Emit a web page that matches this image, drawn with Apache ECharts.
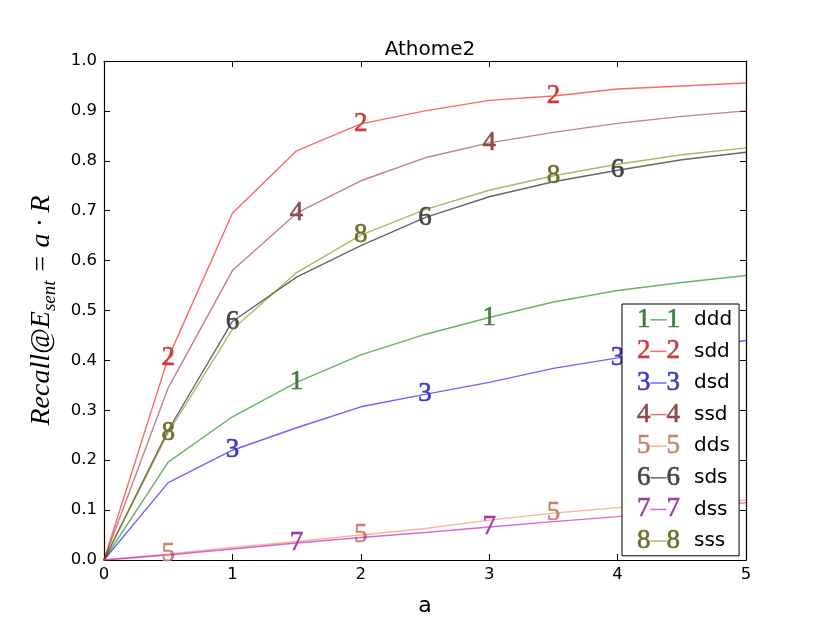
<!DOCTYPE html>
<html>
<head>
<meta charset="utf-8">
<title>Athome2</title>
<script src="https://cdn.jsdelivr.net/npm/echarts@6/dist/echarts.min.js"></script>
<style>
  html, body { margin: 0; padding: 0; background: #fff; }
  #main { width: 830px; height: 623px; }
</style>
</head>
<body>
<div id="main"></div>
<script>
// x values (a) and recall curves
var xs = [0, 0.5, 1, 1.5, 2, 2.5, 3, 3.5, 4, 4.5, 5];
var ddd = [0, 0.196, 0.287, 0.356, 0.411, 0.452, 0.486, 0.517, 0.540, 0.556, 0.570];
var sdd = [0, 0.405, 0.695, 0.820, 0.874, 0.900, 0.921, 0.930, 0.944, 0.950, 0.956];
var dsd = [0, 0.155, 0.220, 0.265, 0.307, 0.332, 0.356, 0.384, 0.405, 0.423, 0.440];
var ssd = [0, 0.345, 0.580, 0.695, 0.760, 0.806, 0.836, 0.857, 0.875, 0.889, 0.900];
var dds = [0, 0.012, 0.025, 0.037, 0.050, 0.063, 0.080, 0.094, 0.105, 0.113, 0.120];
var sds = [0, 0.260, 0.478, 0.567, 0.630, 0.686, 0.728, 0.758, 0.781, 0.802, 0.817];
var dss = [0, 0.010, 0.022, 0.034, 0.045, 0.055, 0.066, 0.077, 0.087, 0.100, 0.115];
var sss = [0, 0.255, 0.462, 0.576, 0.651, 0.702, 0.741, 0.770, 0.793, 0.812, 0.826];

var names = ['ddd', 'sdd', 'dsd', 'ssd', 'dds', 'sds', 'dss', 'sss'];
var values = [ddd, sdd, dsd, ssd, dds, sds, dss, sss];
var digits = ['1', '2', '3', '4', '5', '6', '7', '8'];
// which points carry the digit marker
var markIdx = [[3, 6], [1, 4, 7], [2, 5, 8], [3, 6], [1, 4, 7], [2, 5, 8], [3, 6], [1, 4, 7]];
var yTicks = [0, 0.1, 0.2, 0.3, 0.4, 0.5, 0.6, 0.7, 0.8, 0.9, 1.0];

// line colours (drawn at 0.6 opacity) and darker digit colours
var lineColors = ['#008000', '#ff0000', '#0000ff', '#a52a2a', '#ff7f50', '#000000', '#bf00bf', '#808000'];
var digitColors = ['#3d7d3d', '#d03838', '#3c3cc0', '#8c4c4c', '#c88068', '#444444', '#a03ca0', '#6e6e30'];

var serif = 'Liberation Serif';
var sans = 'DejaVu Sans';

var series = names.map(function (nm, k) {
    var pts = xs.map(function (x, i) {
        var item = { value: [x, values[k][i]] };
        if (markIdx[k].indexOf(i) >= 0) {
            item.label = { show: true };
        }
        return item;
    });
    return {
        name: nm,
        type: 'line',
        data: pts,
        symbol: 'circle',
        symbolSize: 1,
        showAllSymbol: true,
        itemStyle: { color: 'rgba(0,0,0,0)', borderWidth: 0 },
        lineStyle: { color: lineColors[k], width: 1.4, opacity: 0.6 },
        label: {
            show: false,
            position: 'inside',
            formatter: digits[k],
            fontFamily: serif,
            fontSize: 27,
            color: digitColors[k],
            textBorderColor: digitColors[k],
            textBorderWidth: 0.6
        },
        emphasis: { disabled: true },
        animation: false,
        z: 2 + k
    };
});

// legend rows: digit - line - digit, then name
var legendRich = { t: { fontFamily: sans, fontSize: 20, color: '#000', padding: [0, 0, 0, 14] } };
names.forEach(function (nm, k) {
    legendRich['n' + k] = { fontFamily: serif, fontSize: 27, color: digitColors[k], textBorderColor: digitColors[k], textBorderWidth: 0.6 };
    legendRich['l' + k] = { width: 16, height: 1.5, backgroundColor: echarts.color.modifyAlpha(lineColors[k], 0.6) };
});

var chart = echarts.init(document.getElementById('main'), null, { renderer: 'canvas' });

var tickStyle = { inside: true, length: 6, lineStyle: { color: '#000', width: 1 } };
var lineStyle = { show: true, onZero: false, lineStyle: { color: '#000', width: 1.2 } };

chart.setOption({
    backgroundColor: '#fff',
    animation: false,
    title: {
        text: 'Athome2',
        left: 425,
        textAlign: 'center',
        top: 35,
        textStyle: { fontFamily: sans, fontSize: 20, fontWeight: 'normal', color: '#000' }
    },
    grid: { left: 104, right: 84, top: 61, bottom: 63 },
    legend: {
        data: names,
        orient: 'vertical',
        left: 622,
        top: 304,
        padding: [2, 7, 1, 9],
        itemGap: 4,
        itemWidth: 0,
        itemHeight: 0,
        backgroundColor: '#fff',
        borderColor: '#000',
        borderWidth: 1,
        borderRadius: 0,
        selectedMode: false,
        formatter: function (name) {
            var k = names.indexOf(name);
            return '{n' + k + '|' + digits[k] + '}{l' + k + '| }{n' + k + '|' + digits[k] + '}{t|' + name + '}';
        },
        textStyle: { rich: legendRich },
        z: 20
    },
    xAxis: [{
        type: 'value',
        min: 0,
        max: 5,
        interval: 1,
        position: 'bottom',
        axisLine: lineStyle,
        axisTick: tickStyle,
        splitLine: { show: false },
        axisLabel: { fontFamily: sans, fontSize: 16.5, color: '#000', margin: 6 },
        name: 'a',
        nameLocation: 'middle',
        nameGap: 35,
        nameTextStyle: { fontFamily: sans, fontSize: 22, color: '#000' }
    }, {
        type: 'value',
        min: 0,
        max: 5,
        interval: 1,
        position: 'top',
        axisLine: lineStyle,
        axisTick: tickStyle,
        splitLine: { show: false },
        axisLabel: { show: false }
    }],
    yAxis: [{
        type: 'value',
        min: yTicks[0],
        max: yTicks[yTicks.length - 1],
        interval: 0.1,
        position: 'left',
        axisLine: lineStyle,
        axisTick: tickStyle,
        splitLine: { show: false },
        axisLabel: {
            fontFamily: sans, fontSize: 16.5, color: '#000', margin: 7,
            formatter: function (v) { return v.toFixed(1); }
        },
        name: '{m|Recall@E}{s|sent}{m| = a · R}',
        nameLocation: 'middle',
        nameGap: 38,
        nameRotate: 90,
        nameTextStyle: {
            rich: {
                m: { fontFamily: serif, fontStyle: 'italic', fontSize: 28, color: '#000', lineHeight: 36, verticalAlign: 'middle' },
                s: { fontFamily: serif, fontStyle: 'italic', fontSize: 19, color: '#000', lineHeight: 19, verticalAlign: 'bottom' }
            }
        }
    }, {
        type: 'value',
        min: 0,
        max: 1,
        interval: 0.1,
        position: 'right',
        axisLine: lineStyle,
        axisTick: tickStyle,
        splitLine: { show: false },
        axisLabel: { show: false }
    }],
    series: series
});
</script>
</body>
</html>
